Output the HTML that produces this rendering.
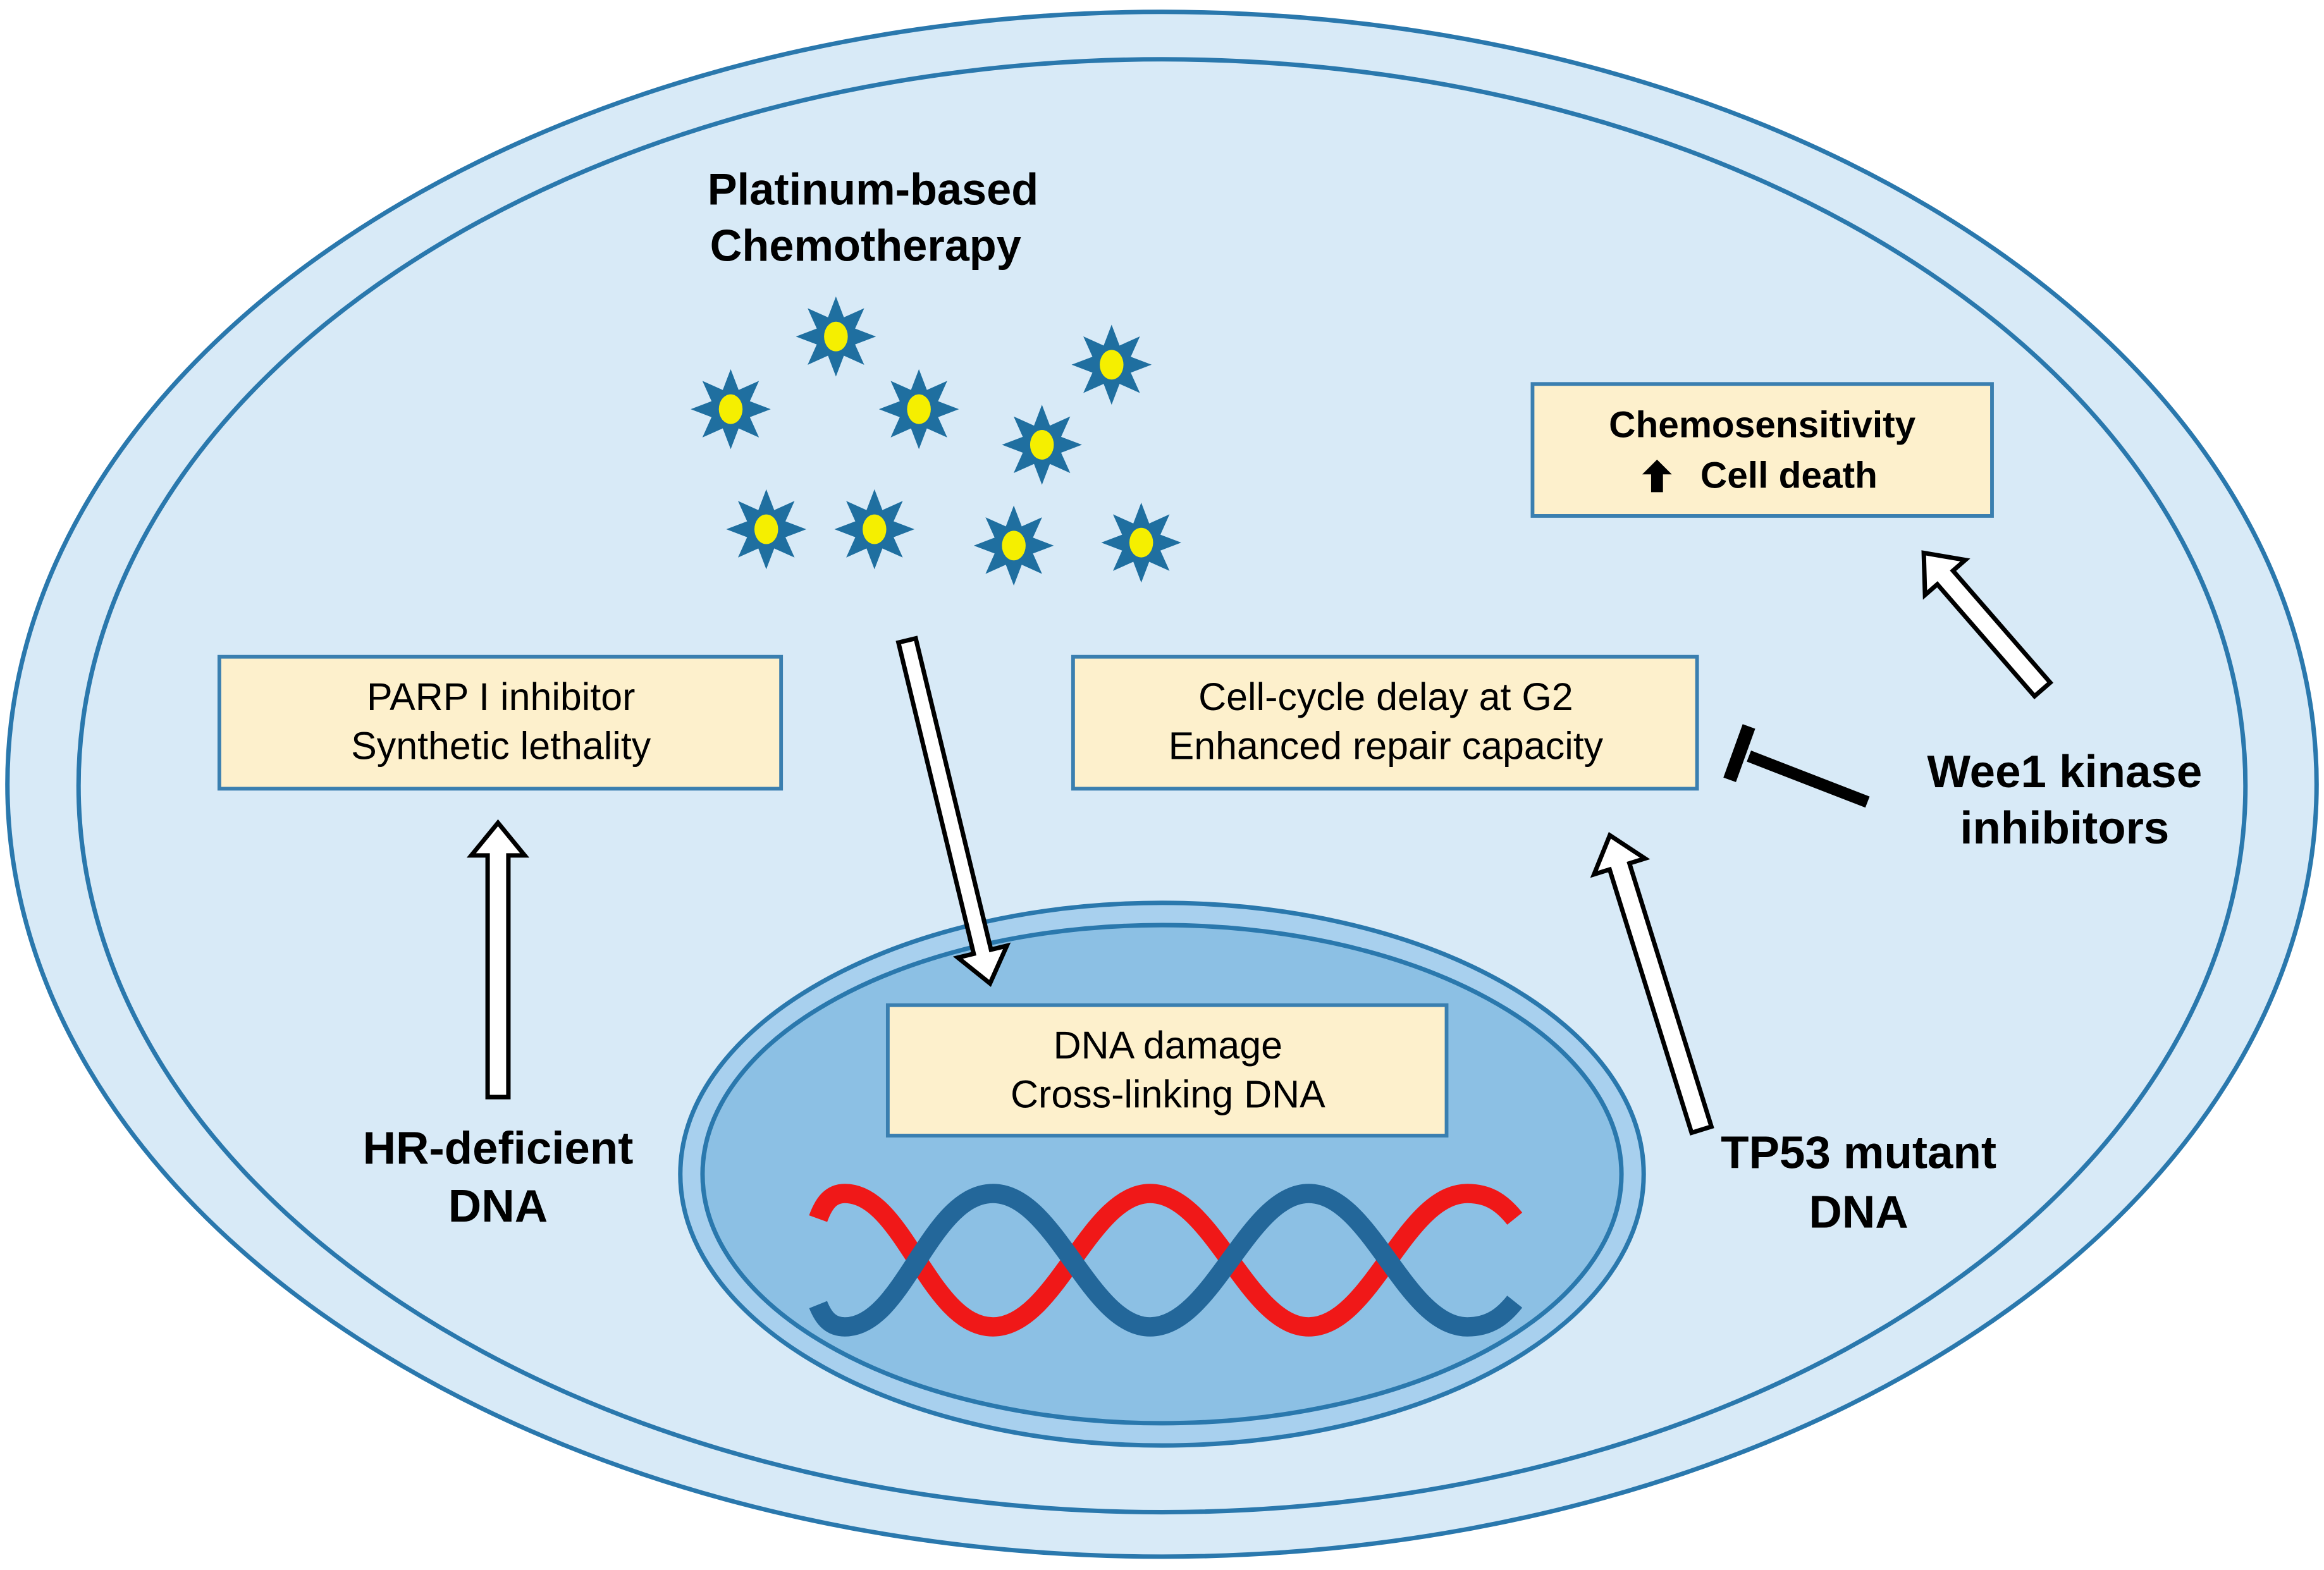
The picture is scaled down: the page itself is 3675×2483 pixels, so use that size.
<!DOCTYPE html>
<html><head><meta charset="utf-8"><style>
html,body{margin:0;padding:0;background:#fff}
svg{display:block}
text{font-family:"Liberation Sans",Arial,sans-serif;fill:#000}
</style></head><body>
<svg width="3675" height="2483" viewBox="0 0 1568 1059" preserveAspectRatio="none" xmlns="http://www.w3.org/2000/svg">
<defs>
<g id="star">
<polygon points="0,-27 5.36,-12.93 19.09,-19.09 12.93,-5.36 27,0 12.93,5.36 19.09,19.09 5.36,12.93 0,27 -5.36,12.93 -19.09,19.09 -12.93,5.36 -27,0 -12.93,-5.36 -19.09,-19.09 -5.36,-12.93" fill="#1f6fa0"/>
<ellipse cx="0" cy="0" rx="8" ry="10" fill="#f5ef00"/>
</g>
</defs>
<rect width="1568" height="1059" fill="#fff"/>
<ellipse cx="784" cy="529" rx="779" ry="521" fill="#d8eaf7" stroke="#2a78ad" stroke-width="3"/>
<ellipse cx="784" cy="530" rx="731" ry="490" fill="#d8eaf7" stroke="#2a78ad" stroke-width="3"/>
<ellipse cx="784" cy="792" rx="325" ry="183" fill="#a8d0ee" stroke="#2a78ad" stroke-width="3"/>
<ellipse cx="784" cy="792" rx="310" ry="168" fill="#8cc0e4" stroke="#2a78ad" stroke-width="3"/>
<rect x="148" y="443" width="379" height="89" fill="#fdf0cc" stroke="#3a7fb0" stroke-width="2.5"/>
<rect x="724" y="443" width="421" height="89" fill="#fdf0cc" stroke="#3a7fb0" stroke-width="2.5"/>
<rect x="1034" y="259" width="310" height="89" fill="#fdf0cc" stroke="#3a7fb0" stroke-width="2.5"/>
<rect x="599" y="678" width="377" height="88" fill="#fdf0cc" stroke="#3a7fb0" stroke-width="2.5"/>
<g font-size="26" text-anchor="middle">
<text x="338" y="479">PARP I inhibitor</text>
<text x="338" y="512">Synthetic lethality</text>
<text x="935" y="479">Cell-cycle delay at G2</text>
<text x="935" y="512">Enhanced repair capacity</text>
<text x="1189" y="295" font-weight="bold" font-size="25">Chemosensitivity</text>
<text x="1207" y="329" font-weight="bold" font-size="25">Cell death</text>
<text x="788" y="714">DNA damage</text>
<text x="788" y="747">Cross-linking DNA</text>
</g>
<polygon points="1118,310 1108,320 1114,320 1114,332 1122,332 1122,320 1128,320" fill="#000"/>
<g font-size="30" font-weight="bold" text-anchor="middle">
<text x="589" y="138">Platinum-based</text>
<text x="584" y="176">Chemotherapy</text>
<text x="336" y="785" font-size="31">HR-deficient</text>
<text x="336" y="824" font-size="31">DNA</text>
<text x="1254" y="788" font-size="31">TP53 mutant</text>
<text x="1254" y="828" font-size="31">DNA</text>
<text x="1393" y="531" font-size="31">Wee1 kinase</text>
<text x="1393" y="569" font-size="31">inhibitors</text>
</g>
<use href="#star" x="493" y="276"/>
<use href="#star" x="564" y="227"/>
<use href="#star" x="620" y="276"/>
<use href="#star" x="750" y="246"/>
<use href="#star" x="703" y="300"/>
<use href="#star" x="517" y="357"/>
<use href="#star" x="590" y="357"/>
<use href="#star" x="684" y="368"/>
<use href="#star" x="770" y="366"/>
<g fill="#fff" stroke="#000" stroke-width="3" stroke-linejoin="miter">
<polygon transform="translate(336,740) rotate(-90)" points="0,-7 163,-7 163,-18 185,0 163,18 163,7 0,7"/>
<polygon transform="translate(612,432) rotate(76.4)" points="0,-6 216,-6 216,-17 238,0 216,17 216,6 0,6"/>
<polygon transform="translate(1148,762) rotate(-107.3)" points="0,-7 186,-7 186,-18 208,0 186,18 186,7 0,7"/>
<polygon transform="translate(1378,465) rotate(-131)" points="0,-7 100,-7 100,-18 122,0 100,18 100,7 0,7"/>
</g>
<line x1="1260" y1="541" x2="1180" y2="510" stroke="#000" stroke-width="8"/>
<line x1="1180" y1="490" x2="1167" y2="526" stroke="#000" stroke-width="9"/>
<path d="M552,822 C556,811 561,805 570,805 C610,805 627,895 670,895 C712,895 735,805 776,805 C818,805 842,895 883,895 C925,895 948,805 990,805 C1005,805 1014,812 1022,822" fill="none" stroke="#f01818" stroke-width="13"/>
<path d="M552,880 C556,890 561,895 570,895 C610,895 627,805 670,805 C712,805 735,895 776,895 C818,895 842,805 883,805 C925,805 948,895 990,895 C1005,895 1014,888 1022,878" fill="none" stroke="#23679a" stroke-width="13"/>
</svg>
</body></html>
